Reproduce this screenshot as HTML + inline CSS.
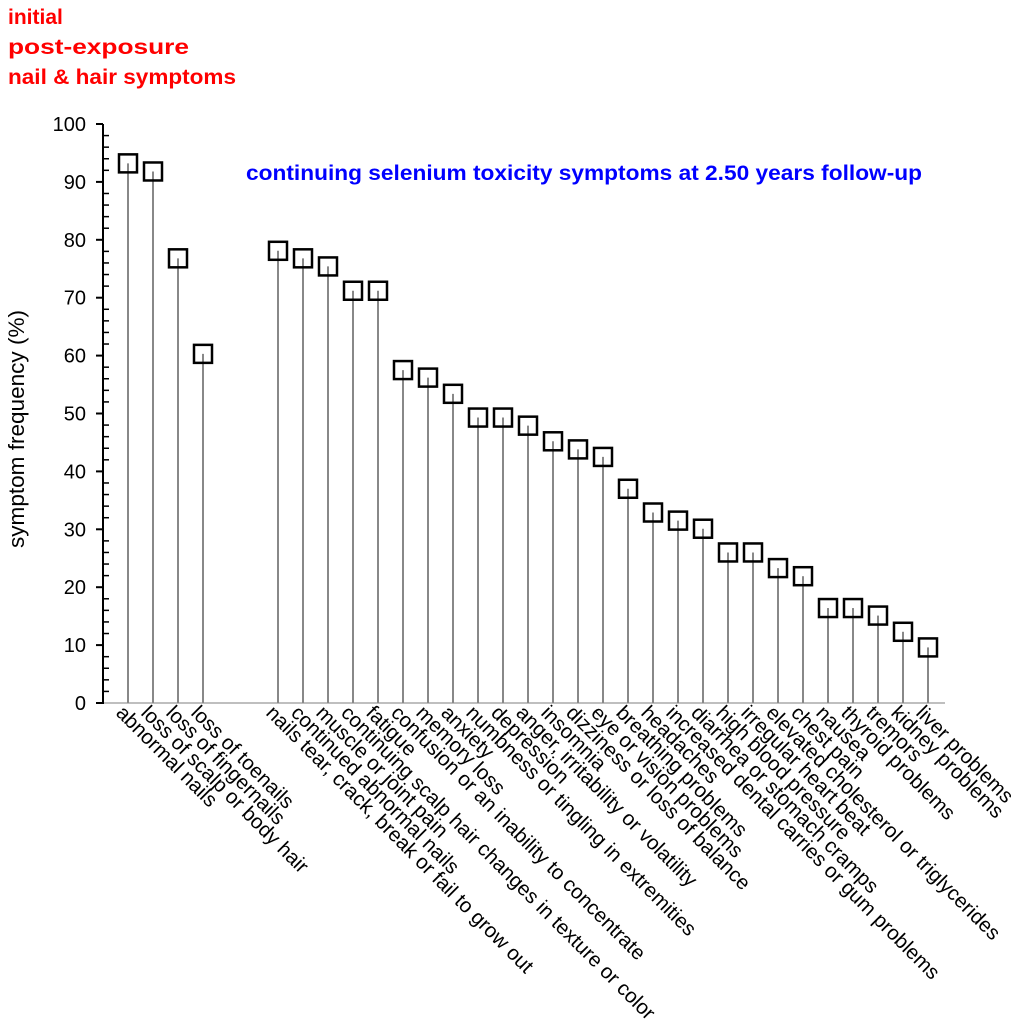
<!DOCTYPE html>
<html><head><meta charset="utf-8"><style>
body{margin:0;background:#fff;}
svg{display:block;font-family:"Liberation Sans",sans-serif;}
</style></head><body>
<svg id="chart" width="1024" height="1029" viewBox="0 0 1024 1029">
<text x="8" y="24" fill="#f00" font-size="21" font-weight="bold">initial</text>
<text x="8" y="54" fill="#f00" font-size="21" font-weight="bold" textLength="181" lengthAdjust="spacingAndGlyphs">post-exposure</text>
<text x="8" y="84" fill="#f00" font-size="21" font-weight="bold" textLength="228" lengthAdjust="spacingAndGlyphs">nail &amp; hair symptoms</text>
<text x="246" y="180" fill="#00f" font-size="21" font-weight="bold" textLength="676" lengthAdjust="spacingAndGlyphs">continuing selenium toxicity symptoms at 2.50 years follow-up</text>
<text transform="translate(24,429) rotate(-90)" font-size="22" text-anchor="middle" textLength="238" lengthAdjust="spacingAndGlyphs">symptom frequency (%)</text>
<g id="axes"></g><g id="marks"></g><g id="labels"></g>
</svg>
<script>
const categories=["abnormal nails","loss of scalp or body hair","loss of fingernails","loss of toenails",
"nails tear, crack, break or fail to grow out","continued abnormal nails","muscle or joint pain","continuing scalp hair changes in texture or color","fatigue","confusion or an inability to concentrate","memory loss","anxiety","numbness or tingling in extremities","depression","anger, irritability or volatility","insomnia","dizziness or loss of balance","eye or vision problems","breathing problems","headaches","increased dental carries or gum problems","diarrhea or stomach cramps","high blood pressure","irregular heart beat","elevated cholesterol or triglycerides","chest pain","nausea","thyroid problems","tremors","kidney problems","liver problems"];
const values=[93.2,91.8,76.8,60.3,78.1,76.8,75.4,71.2,71.2,57.5,56.2,53.4,49.3,49.3,47.9,45.2,43.8,42.5,37.0,32.9,31.5,30.1,26.0,26.0,23.3,21.9,16.4,16.4,15.1,12.3,9.6];
const yTicks=[0,10,20,30,40,50,60,70,80,90,100];
const NS="http://www.w3.org/2000/svg";
const y=v=>703-v*5.79;
const x=i=>128+25*i+(i>=4?50:0);
function mk(t,a,p){const e=document.createElementNS(NS,t);for(const k in a)e.setAttribute(k,a[k]);p.appendChild(e);return e;}
const ax=document.getElementById('axes'),mg=document.getElementById('marks'),lg=document.getElementById('labels');
const xl=mk('line',{x1:103,y1:703,x2:945,y2:703,stroke:'#aaa','stroke-width':1.5},ax);


const yl=mk('line',{x1:103,y1:y(0)+1,x2:103,y2:y(100),stroke:'#000','stroke-width':2},ax);


for(let v=0;v<=100;v+=2){if(v%10){mk('line',{x1:103,x2:109,y1:y(v),y2:y(v),stroke:'#000','stroke-width':1.5},ax);}}
yTicks.forEach(v=>{mk('line',{x1:96,x2:103,y1:y(v),y2:y(v),stroke:'#000','stroke-width':2},ax);
const t=mk('text',{x:86,y:y(v)+7,'font-size':20,'text-anchor':'end'},ax);t.textContent=v;

});
values.forEach((v,i)=>{const cx=x(i),cy=y(v);
const s=mk('line',{x1:cx,x2:cx,y1:703,y2:cy,stroke:'#888','stroke-width':2},mg);


const r=mk('rect',{x:cx-9,y:cy-9,width:18,height:18,fill:'none',stroke:'#000','stroke-width':2.5},mg);


const t=mk('text',{transform:`translate(${cx-13},${714}) rotate(45)`,'font-size':20.5},lg);t.textContent=categories[i];

});
</script>
</body></html>
